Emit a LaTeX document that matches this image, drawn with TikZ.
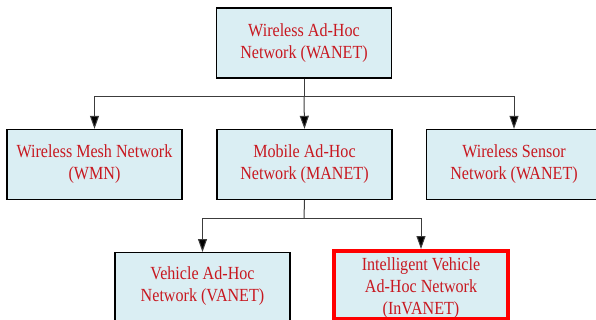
\documentclass[tikz,border=0pt]{standalone}
\usepackage{fontspec}
\setmainfont{Liberation Serif}[FakeStretch=0.87]
\usetikzlibrary{arrows.meta}
\definecolor{boxfill}{RGB}{218,238,243}
\definecolor{boxtext}{RGB}{200,24,32}
\definecolor{linkgray}{RGB}{60,60,60}
\tikzset{
  netbox/.style={draw=black, line width=1.4pt, fill=boxfill, minimum width=175pt,
    minimum height=70pt, inner sep=0pt},
  hotbox/.style={netbox, draw=red, line width=4pt, minimum width=174pt,
    minimum height=68pt},
  boxlabel/.style={text=boxtext, align=center, inner sep=0pt,
    font=\fontsize{18.5}{22}\selectfont},
  link/.style={draw=linkgray, line width=1pt},
  arrowlink/.style={link, -{Triangle[length=13pt, width=9pt, fill=black]}}
}
\begin{document}
\begin{tikzpicture}[x=1pt, y=-1pt]
  \useasboundingbox (0,0) rectangle (596,320);
  \fill[white] (0,0) rectangle (596,320);

  % root
  \node[netbox, boxlabel] (wanet) at (304,43)
    {Wireless Ad-Hoc\\Network (WANET)};

  % second level
  \node[netbox, boxlabel] (wmn) at (94.5,164.5)
    {Wireless Mesh Network\\(WMN)};
  \node[netbox, boxlabel] (manet) at (304.5,164.5)
    {Mobile Ad-Hoc\\Network (MANET)};
  \node[netbox, boxlabel] (wsn) at (514,164.5)
    {Wireless Sensor\\Network (WANET)};

  % third level (the plain box runs past the lower edge)
  \node[netbox, anchor=north, minimum height=72pt] (vanet) at (202.5,252) {};
  \node[hotbox] (invanet) at (421,285) {};

  % bus lines
  \coordinate (busA) at (304,97);
  \coordinate (busB) at (304,218);

  \draw[link] (wanet.south) -- (busA);
  \draw[arrowlink] (busA) -| (wmn.north);
  \draw[arrowlink] (busA) -| (wsn.north);
  \draw[arrowlink] (busA) -- (manet.north);

  \draw[link] (manet.south) -- (busB);
  \draw[arrowlink] (busB) -| (vanet.north);
  \draw[arrowlink] (busB) -| (invanet.north);

  % texts of the third level
  \node[boxlabel] (vanettext) at (202.5,286.5) {Vehicle Ad-Hoc\\Network (VANET)};
  \node[boxlabel] (invanettext) at (421,288)
    {Intelligent Vehicle\\Ad-Hoc Network\\(InVANET)};
\end{tikzpicture}
\end{document}
